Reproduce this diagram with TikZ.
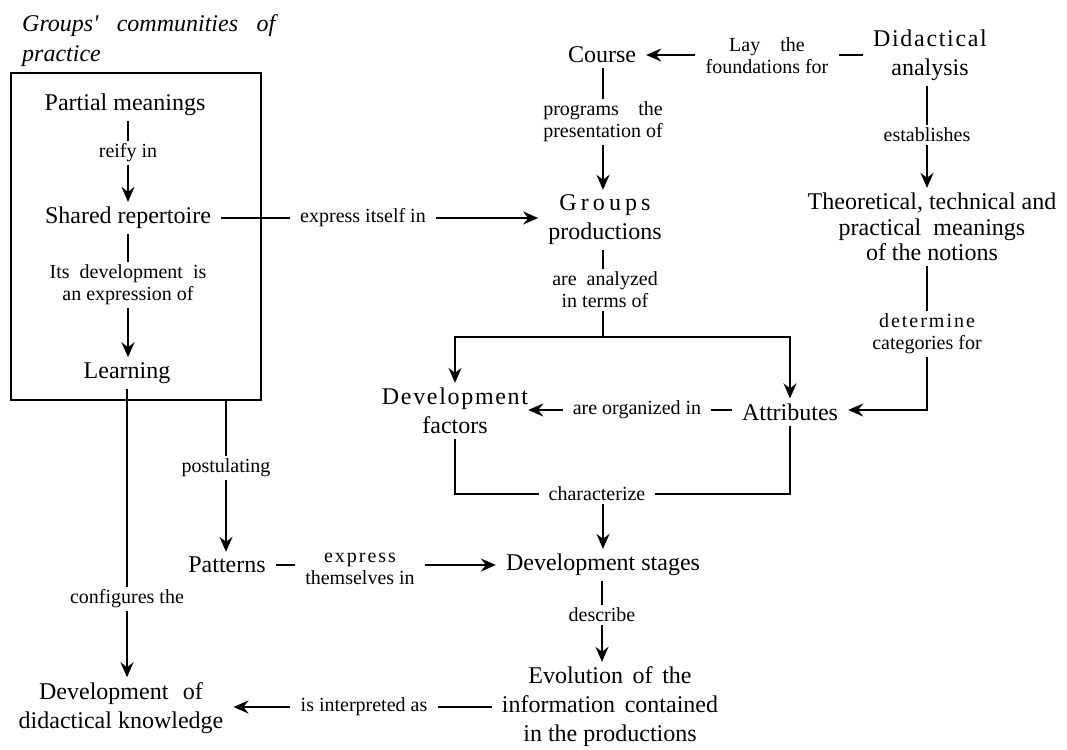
\documentclass[tikz,border=0pt]{standalone}
\usepackage{fontspec}
\setmainfont{Liberation Serif}
\newfontfamily\lsG[LetterSpace=17]{Liberation Serif}
\newfontfamily\lsD[LetterSpace=7]{Liberation Serif}
\newfontfamily\lsL[LetterSpace=10]{Liberation Serif}
\usetikzlibrary{arrows.meta}
\newcommand\mainsz{\fontsize{24}{29}\selectfont}
\newcommand\lblsz{\fontsize{20}{22}\selectfont}
\newlength\stw
\newcommand\stretchto[2]{\settowidth{\stw}{#2}\makebox[\stw][s]{#1}}
\begin{document}
\begin{tikzpicture}[x=1pt,y=-1pt,
 mainnode/.style={font=\mainsz, align=center, inner xsep=10pt, inner ysep=5pt},
 lbl/.style={font=\lblsz, align=center, inner xsep=10pt, inner ysep=3pt},
 con/.style={line width=2pt},
 arr/.style={line width=2pt, -{Stealth[length=15pt,width=13pt,inset=5pt]}},
]
\useasboundingbox (0,0) rectangle (1067,749);

\node[anchor=north west, text width=253pt, align=justify, inner sep=0pt,
      font=\fontsize{24}{30}\selectfont\itshape] (title) at (22,14)
  {Groups\textquotesingle{} communities of practice};
\node[draw, line width=2pt, minimum width=250pt, minimum height=327pt, inner sep=0pt] (box) at (136,236.5) {};

\node[mainnode] (pm) at (125,105) {Partial meanings};
\node[lbl] (reify) at (128,153) {reify in};
\node[mainnode] (sr) at (128,218) {Shared repertoire};
\node[lbl] (itsdev) at (128,285) {Its\hspace{0.5em}development\hspace{0.5em}is\\an expression of};
\node[mainnode] (learn) at (127,373) {Learning};
\node[lbl] (post) at (226,468) {postulating};
\node[mainnode] (pat) at (227,565) {Patterns};
\node[lbl] (expthem) at (360,569) {{\lsL express}\\themselves in};
\node[mainnode] (ds) at (603,565) {Development stages};
\node[lbl] (describe) at (602,615) {describe};
\node[mainnode] (evo) at (610,707) {Evolution\hspace{0.4em}of\hspace{0.4em}the\\information\hspace{0.4em}contained\\in the productions};
\node[lbl] (interp) at (364,707) {is interpreted as};
\node[mainnode] (ddk) at (121,708) {Development\hspace{0.6em}of\\didactical knowledge};
\node[lbl] (config) at (127,599) {configures the};
\node[mainnode] (course) at (602,55) {Course};
\node[lbl] (progs) at (603,122) {\stretchto{programs the}{presentation of}\\presentation of};
\node[mainnode] (gp) at (605,220) {{\lsG Groups}\\productions};
\node[lbl] (exprin) at (363,218) {express itself in};
\node[lbl] (lay) at (767,56) {Lay\hspace{1em}the\\foundations for};
\node[mainnode] (da) at (930,55) {{\lsD Didactical}\\analysis};
\node[lbl] (estab) at (927,135) {establishes};
\node[mainnode, font=\fontsize{24}{25.5}\selectfont] (tech) at (932,227) {Theoretical, technical and\\practical\hspace{0.5em}meanings\\of the notions};
\node[lbl] (detcat) at (927,334) {{\lsL determine}\\categories for};
\node[mainnode] (attr) at (790,412) {Attributes};
\node[lbl] (org) at (637,410) {are organized in};
\node[mainnode, inner xsep=0pt] (df) at (455,411) {{\lsD Development}\\factors};
\node[lbl] (analyzed) at (605,290) {are\hspace{0.5em}analyzed\\in terms of};
\node[lbl] (char) at (597,494) {characterize};
\coordinate (jn) at (603,337);

\draw[con] (reify |- pm.south) -- (reify.north);
\draw[arr] (reify.south) -- (reify |- sr.north);
\draw[con] (itsdev |- sr.south) -- (itsdev.north);
\draw[arr] (itsdev.south) -- (itsdev |- learn.north);
\draw[con] (sr.east) -- (exprin.west);
\draw[arr] (exprin.east) -- (gp.west |- exprin);
\draw[con] (config |- learn.south) -- (config.north);
\draw[arr] (config.south) -- (config |- ddk.north);
\draw[con] (box.south -| post) -- (post.north);
\draw[arr] (post.south) -- (post |- pat.north);
\draw[con] (pat.east) -- (expthem.west |- pat);
\draw[arr] (expthem.east |- ds) -- (ds.west);
\draw[con] (ds.south -| describe) -- (describe.north);
\draw[arr] (describe.south) -- (describe |- evo.north);
\draw[con] (evo.west |- interp) -- (interp.east);
\draw[arr] (interp.west) -- (ddk.east |- interp);
\draw[arr] (lay.west |- course) -- (course.east);
\draw[con] (da.west |- course) -- (lay.east |- course);
\draw[con] (course.south -| progs) -- (progs.north);
\draw[arr] (progs.south) -- (progs |- gp.north);
\draw[con] (da.south -| estab) -- (estab.north);
\draw[arr] (estab.south) -- (estab |- tech.north);
\draw[con] (gp.south -| jn) -- (analyzed.north -| jn);
\draw[con] (analyzed.south -| jn) -- (jn);
\draw[arr] (jn) -- (df |- jn) -- (df.north);
\draw[arr] (jn) -- (attr |- jn) -- (attr.north);
\draw[con] (detcat |- tech.south) -- (detcat.north);
\draw[arr] (detcat.south) -- (detcat |- org) -- (attr.east |- org);
\draw[con] (attr.west |- org) -- (org.east);
\draw[arr] (org.west) -- (df.east |- org);
\draw[con] (char.west) -- (df |- char) -- (df.south);
\draw[con] (char.east) -- (attr |- char) -- (attr.south);
\draw[arr] (char.south -| ds) -- (ds.north);
\end{tikzpicture}
\end{document}
